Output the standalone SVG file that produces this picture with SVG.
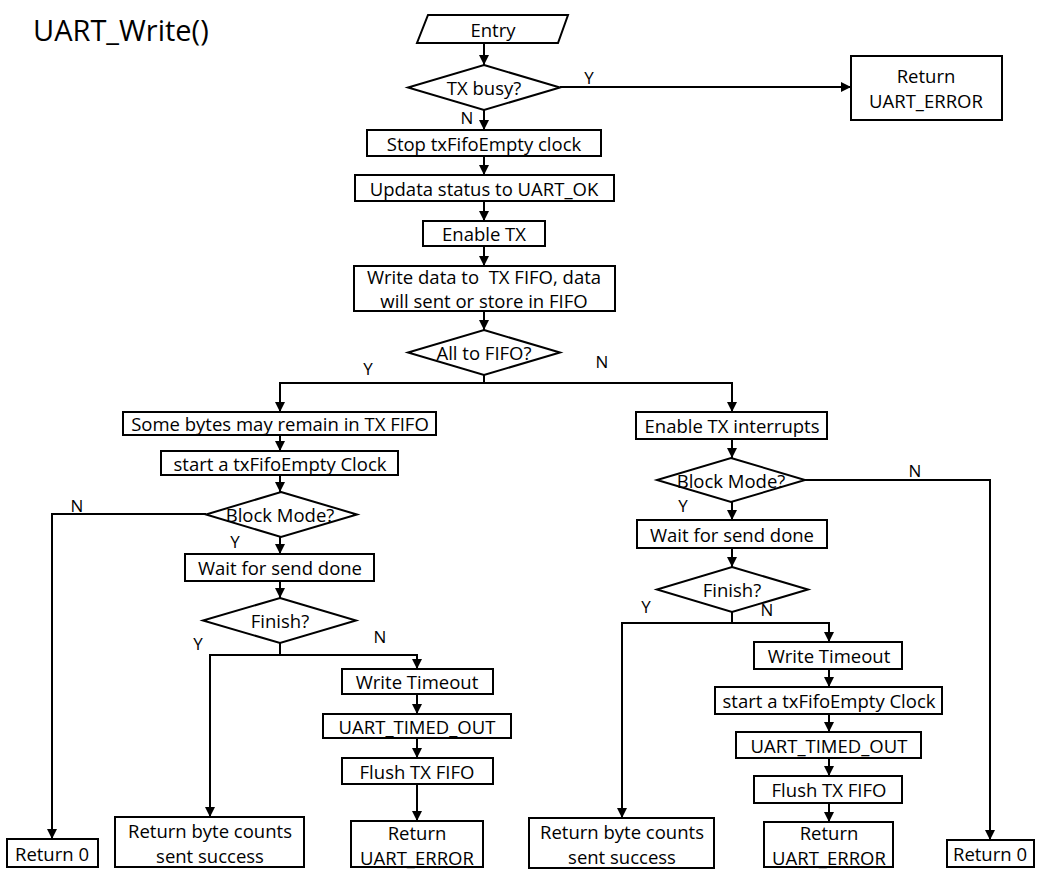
<svg xmlns="http://www.w3.org/2000/svg" width="1055" height="887" viewBox="0 0 1055 887">
<style>
.b{fill:#fff;stroke:#000;stroke-width:2}
.t{font-family:"Open Sans","Liberation Sans",sans-serif;font-size:18.5px;fill:#000;text-anchor:middle;dominant-baseline:central;white-space:pre}
.l{font-family:"Open Sans","Liberation Sans",sans-serif;font-size:17px;fill:#000;text-anchor:middle;dominant-baseline:central}
.c{fill:none;stroke:#000;stroke-width:2}
</style>
<defs>
<marker id="a" markerUnits="userSpaceOnUse" markerWidth="10" markerHeight="10" refX="10" refY="5" orient="auto" viewBox="0 0 10 10"><path d="M0,0L10,5L0,10z" fill="#000"/></marker>
</defs>
<rect width="1055" height="887" fill="#fff"/>
<text x="33" y="29" style="font-family:'Open Sans','Liberation Sans',sans-serif;font-size:29px;dominant-baseline:central">UART_Write()</text>
<g id="connectors">
<path class="c" marker-end="url(#a)" d="M484,43V65"/>
<path class="c" marker-end="url(#a)" d="M560,87H851"/>
<path class="c" marker-end="url(#a)" d="M484,110V130"/>
<path class="c" marker-end="url(#a)" d="M484,156V175"/>
<path class="c" marker-end="url(#a)" d="M484,201V221"/>
<path class="c" marker-end="url(#a)" d="M484,246V266"/>
<path class="c" marker-end="url(#a)" d="M484,311V330"/>
<path class="c" d="M484,375V383"/>
<path class="c" marker-end="url(#a)" d="M484,383H280V412"/>
<path class="c" marker-end="url(#a)" d="M484,383H732V412"/>
<path class="c" marker-end="url(#a)" d="M280,435V451"/>
<path class="c" marker-end="url(#a)" d="M280,475V492"/>
<path class="c" marker-end="url(#a)" d="M206,514H52V839"/>
<path class="c" marker-end="url(#a)" d="M280,537V554"/>
<path class="c" marker-end="url(#a)" d="M280,581V598"/>
<path class="c" d="M280,643V655"/>
<path class="c" marker-end="url(#a)" d="M280,655H210V817"/>
<path class="c" marker-end="url(#a)" d="M280,655H417V669"/>
<path class="c" marker-end="url(#a)" d="M417,694V714"/>
<path class="c" marker-end="url(#a)" d="M417,738V758"/>
<path class="c" marker-end="url(#a)" d="M417,784V821"/>
<path class="c" marker-end="url(#a)" d="M732,439V458"/>
<path class="c" marker-end="url(#a)" d="M805,480H990V840"/>
<path class="c" marker-end="url(#a)" d="M732,502V520"/>
<path class="c" marker-end="url(#a)" d="M732,548V567"/>
<path class="c" d="M732,612V623"/>
<path class="c" marker-end="url(#a)" d="M732,623H622V818"/>
<path class="c" marker-end="url(#a)" d="M732,623H829V642"/>
<path class="c" marker-end="url(#a)" d="M829,669V687"/>
<path class="c" marker-end="url(#a)" d="M829,714V732"/>
<path class="c" marker-end="url(#a)" d="M829,758V776"/>
<path class="c" marker-end="url(#a)" d="M829,803V822"/>
<text class="l" x="589" y="77">Y</text>
<text class="l" x="467" y="117">N</text>
<text class="l" x="368" y="368">Y</text>
<text class="l" x="602" y="361">N</text>
<text class="l" x="77" y="505">N</text>
<text class="l" x="235" y="541">Y</text>
<text class="l" x="198" y="643">Y</text>
<text class="l" x="380" y="636">N</text>
<text class="l" x="915" y="470">N</text>
<text class="l" x="683" y="505">Y</text>
<text class="l" x="646" y="606">Y</text>
<text class="l" x="767" y="609">N</text>
</g>
<g id="entry"><path class="b" d="M428,15H568L558,43H417Z"/><text class="t" x="493" y="29">Entry</text></g>
<g id="txbusy"><path class="b" d="M484,65L560,87.5L484,110L408,87.5Z"/><text class="t" x="484" y="87">TX busy?</text></g>
<g id="ret_err_top"><rect class="b" x="851" y="56" width="151" height="64"/><text class="t" x="926" y="75">Return</text><text class="t" x="926" y="100">UART_ERROR</text></g>
<g id="stop"><rect class="b" x="367" y="130" width="234" height="26"/><text class="t" x="484" y="143">Stop txFifoEmpty clock</text></g>
<g id="updata"><rect class="b" x="355" y="175" width="259" height="26"/><text class="t" x="484" y="188">Updata status to UART_OK</text></g>
<g id="entx"><rect class="b" x="423" y="221" width="122" height="25"/><text class="t" x="484" y="233">Enable TX</text></g>
<g id="write"><rect class="b" x="354" y="266" width="261" height="45"/><text class="t" x="484" y="276" xml:space="preserve">Write data to  TX FIFO, data</text><text class="t" x="484" y="300">will sent or store in FIFO</text></g>
<g id="allfifo"><path class="b" d="M484,330L560,352.5L484,375L408,352.5Z"/><text class="t" x="484" y="352">All to FIFO?</text></g>
<g id="somebytes"><rect class="b" x="123" y="412" width="313" height="23"/><text class="t" x="280" y="423">Some bytes may remain in TX FIFO</text></g>
<g id="startclkL"><rect class="b" x="161" y="451" width="237" height="24"/><text class="t" x="280" y="463">start a txFifoEmpty Clock</text></g>
<g id="blockL"><path class="b" d="M281,492L357,514.5L281,537L206,514.5Z"/><text class="t" x="280" y="514">Block Mode?</text></g>
<g id="waitL"><rect class="b" x="185" y="554" width="189" height="27"/><text class="t" x="280" y="567">Wait for send done</text></g>
<g id="finishL"><path class="b" d="M280,598L356,620.5L280,643L203,620.5Z"/><text class="t" x="280" y="620">Finish?</text></g>
<g id="wtoL"><rect class="b" x="342" y="669" width="151" height="25"/><text class="t" x="417" y="681">Write Timeout</text></g>
<g id="tmoL"><rect class="b" x="323" y="714" width="188" height="24"/><text class="t" x="417" y="726">UART_TIMED_OUT</text></g>
<g id="flushL"><rect class="b" x="342" y="758" width="151" height="26"/><text class="t" x="417" y="771">Flush TX FIFO</text></g>
<g id="reterrL"><rect class="b" x="351" y="821" width="132" height="46"/><text class="t" x="417" y="832">Return</text><text class="t" x="417" y="857">UART_ERROR</text></g>
<g id="retbytesL"><rect class="b" x="115" y="817" width="189" height="50"/><text class="t" x="210" y="830">Return byte counts</text><text class="t" x="210" y="855">sent success</text></g>
<g id="ret0L"><rect class="b" x="7" y="839" width="91" height="28"/><text class="t" x="52" y="853">Return 0</text></g>
<g id="enint"><rect class="b" x="636" y="412" width="191" height="27"/><text class="t" x="732" y="425">Enable TX interrupts</text></g>
<g id="blockR"><path class="b" d="M731,458L805,480L731,502L657,480Z"/><text class="t" x="731" y="480">Block Mode?</text></g>
<g id="waitR"><rect class="b" x="637" y="520" width="190" height="28"/><text class="t" x="732" y="534">Wait for send done</text></g>
<g id="finishR"><path class="b" d="M732,567L808,589.5L732,612L657,589.5Z"/><text class="t" x="732" y="589">Finish?</text></g>
<g id="wtoR"><rect class="b" x="754" y="642" width="148" height="27"/><text class="t" x="829" y="655">Write Timeout</text></g>
<g id="startclkR"><rect class="b" x="715" y="687" width="227" height="27"/><text class="t" x="829" y="700">start a txFifoEmpty Clock</text></g>
<g id="tmoR"><rect class="b" x="736" y="732" width="185" height="26"/><text class="t" x="829" y="745">UART_TIMED_OUT</text></g>
<g id="flushR"><rect class="b" x="754" y="776" width="148" height="27"/><text class="t" x="829" y="789">Flush TX FIFO</text></g>
<g id="reterrR"><rect class="b" x="764" y="822" width="129" height="45"/><text class="t" x="829" y="832">Return</text><text class="t" x="829" y="857">UART_ERROR</text></g>
<g id="retbytesR"><rect class="b" x="529" y="818" width="185" height="50"/><text class="t" x="622" y="831">Return byte counts</text><text class="t" x="622" y="856">sent success</text></g>
<g id="ret0R"><rect class="b" x="947" y="840" width="87" height="27"/><text class="t" x="990" y="853">Return 0</text></g>
</svg>
